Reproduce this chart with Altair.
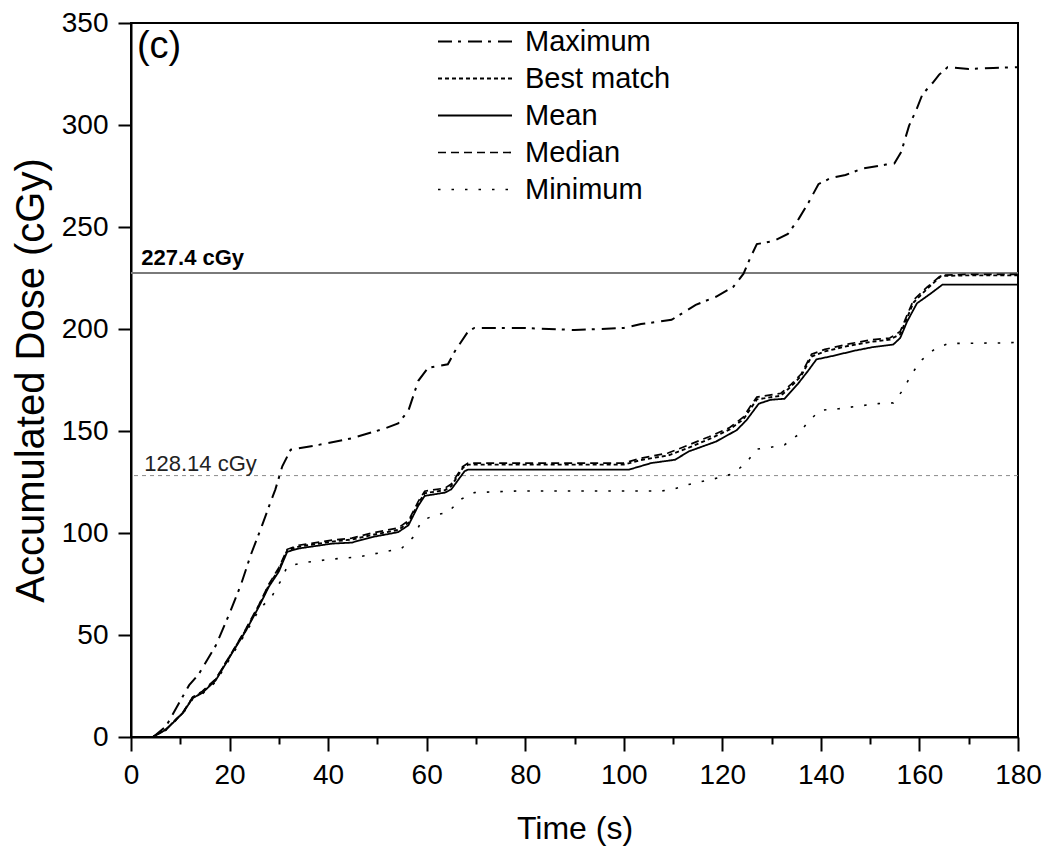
import altair as alt
import pandas as pd

# ---------------- data ----------------
series_names = ["Maximum", "Best match", "Mean", "Median", "Minimum"]

max_t = [4.5, 7.1, 9.9, 11.8, 13.8, 17.2, 19.9, 22.3, 24.3, 26.6, 28.3, 29.3, 30.7, 32.4,
         38.1, 44.8, 51.6, 54.2, 56.3, 58.3, 60.3, 64.3, 65.7, 68.4, 69.7, 80, 90, 100,
         103.5, 109.7, 114.6, 118.7, 122.2, 124.3, 125.6, 127.0, 130.5, 133.3, 135.5, 137.5,
         139.5, 142, 145, 148.5, 153.2, 154.9, 156.3, 157.9, 159.3, 160.6, 162.7, 164.0,
         165.7, 170, 175, 180]
max_d = [0, 5.2, 17.3, 25.4, 31, 44.8, 60, 74.6, 89.2, 103.7, 115, 121.4, 132.7, 140.8,
         143.2, 146.4, 151.3, 153.7, 160, 174.6, 181, 182.7, 189, 198.8, 200.5, 200.5, 199.5, 200.5,
         202.4, 204.5, 211.8, 215.8, 220.6, 227.1, 234.5, 241.6, 243.2, 246.6, 254, 262,
         271, 274, 275.5, 278.7, 280.6, 281.1, 286.8, 299.7, 307, 315, 320.7, 324.7,
         328.3, 327.5, 328, 328.3]

mean_t = [4.4, 7.1, 10.5, 12.5, 14.5, 17.2, 20.6, 23.3, 26, 28, 30, 31.7, 34, 40.8, 44.8,
          48.9, 54.2, 56.3, 58.3, 59.6, 63.7, 65, 67.7, 68.4, 80, 90, 101.1, 105.6, 110.4,
          113.2, 118.7, 122.9, 124.9, 127.4, 129.8, 132.6, 135.3, 137.4, 139.1, 142.2, 147.1,
          150.5, 154.7, 156.1, 157.5, 159.5, 162.3, 164.7, 170, 180]
mean_d = [0, 3.6, 11.7, 19, 21.7, 27.8, 41.5, 52, 64.1, 73.8, 81.1, 90.8, 92.4, 94.8, 95.3,
          98, 100.4, 103.8, 113.4, 118.2, 119.8, 121.4, 130.3, 131.1, 131.1, 131.1, 131.1, 134.3, 135.9,
          140, 144.8, 150.4, 155.3, 163.4, 165.3, 165.8, 173, 179.5, 185.1, 186.7, 189.5,
          191.1, 192.4, 195.6, 203.7, 212.6, 217.4, 221.8, 221.8, 221.8]

median_t = [4.4, 7.1, 10.5, 12.5, 14.5, 17.2, 20.6, 23.3, 26, 28, 30, 31.7, 34, 40.8, 44.8,
            48.9, 54.2, 56.3, 58.3, 59.6, 63.7, 65, 67.3, 68.4, 80, 90, 100, 103.5, 109,
            113.2, 117.3, 121.5, 124.3, 125.6, 127, 131.9, 134, 136, 138.1, 140.8, 145.7,
            150.5, 154, 156.1, 157.5, 158.8, 161.6, 164.4, 170, 180]
median_d = [0, 3.8, 12, 19.5, 22.5, 28.5, 42, 53, 65, 75, 83, 92, 94, 96.5, 97.5,
            100, 102.5, 106, 115.5, 120.5, 122, 124, 132.5, 134.3, 134.3, 134.3, 134.3, 136.7, 139.2,
            143.2, 147.2, 151.7, 156.9, 161.8, 166.6, 168.5, 173, 177.9, 187.6, 190, 192.7,
            194.8, 195.6, 198.8, 206.9, 214.2, 220.6, 226.3, 226.8, 226.8]

best_t = median_t
best_d = [0, 3.7, 11.8, 19.2, 22, 28.2, 41.8, 52.5, 64.5, 74.5, 82, 91.5, 93.3, 95.8, 96.8,
          99, 101.5, 105, 114.5, 119.5, 121, 123, 131.8, 133.5, 133.5, 133.5, 133.5, 135.8, 138,
          141.8, 146, 150.8, 155.8, 160.5, 165.5, 167.3, 172, 177, 186.5, 189, 191.8,
          193.8, 194.8, 197.5, 205.5, 213, 219.8, 226, 226.3, 226.3]

min_t = [4.4, 7.1, 10.5, 12.5, 14.5, 17.2, 20.6, 23.3, 26, 28.6, 30.3, 31.7, 34.7, 40.8,
         46.2, 52.2, 54.9, 57.3, 59, 61.7, 64.3, 67, 69.7, 78.5, 90, 107.7, 110.4, 113.2,
         116.3, 119.1, 122.2, 124.9, 127, 129.8, 132.6, 135.3, 137.4, 139.8, 143.6, 148.5,
         151.6, 154.7, 156.8, 158.2, 160.2, 163, 165.8, 177.5, 180]
min_d = [0, 3.4, 11.3, 18.5, 21.2, 27, 40.5, 51, 62.5, 69, 76.2, 83.5, 85.4, 87.2,
         88.3, 91.1, 92.4, 98, 106, 108.8, 110.1, 116.6, 119.8, 120.6, 120.6, 120.6, 121.7, 123.8,
         125.5, 127, 129.1, 134.6, 141.1, 142, 143.2, 148, 154.5, 160.1, 160.9, 162.5,
         163.4, 163.8, 170.6, 177, 184.3, 190, 192.9, 193.2, 193.5]

ref_values = [227.4, 128.14]
ref_labels = ["227.4 cGy", "128.14 cGy"]
panel_label = "(c)"

x_ticks = list(range(0, 181, 5))
y_ticks = list(range(0, 351, 50))

# ---------------- build table ----------------
rows = []
for name, ts, ds in [("Maximum", max_t, max_d), ("Best match", best_t, best_d),
                     ("Mean", mean_t, mean_d), ("Median", median_t, median_d),
                     ("Minimum", min_t, min_d)]:
    for t, d in zip(ts, ds):
        rows.append({"series": name, "time": t, "dose": d})
df = pd.DataFrame(rows)

FONT = "Liberation Sans"
W, H = 887, 714

xscale = alt.Scale(domain=[0, 180], nice=False, zero=False)
yscale = alt.Scale(domain=[0, 350], nice=False)

dash_range = [[14, 6, 3, 7], [4, 3], [1, 0], [8, 5], [2.5, 11]]
width_range = [2, 1.6, 2.6, 2, 2.2]

lines = alt.Chart(df).mark_line(color="black", strokeCap="butt", clip=True).encode(
    x=alt.X("time:Q", scale=xscale,
            axis=alt.Axis(values=x_ticks, title="Time (s)",
                          labelExpr="datum.value % 20 === 0 ? datum.label : ''",
                          tickSize={"condition": {"test": "datum.value % 20 === 0", "value": 14}, "value": 7},
                          labelFontSize=28, labelPadding=10, titleFontSize=32, titlePadding=24,
                          labelFlush=False)),
    y=alt.Y("dose:Q", scale=yscale,
            axis=alt.Axis(values=y_ticks, title="Accumulated Dose (cGy)", tickSize=13,
                          labelFontSize=28, labelPadding=10, titleFontSize=40, titlePadding=10,
                          labelFlush=False)),
    strokeDash=alt.StrokeDash("series:N",
                              scale=alt.Scale(domain=series_names, range=dash_range),
                              sort=series_names,
                              legend=alt.Legend(title=None, orient="none", legendX=306, legendY=0,
                                                symbolType="stroke", symbolSize=5476,
                                                symbolStrokeWidth=1.5, symbolStrokeColor="black",
                                                labelFontSize=29, labelOffset=12, rowPadding=0,
                                                clipHeight=37, padding=0, direction="vertical")),
    strokeWidth=alt.StrokeWidth("series:N",
                                scale=alt.Scale(domain=series_names, range=width_range),
                                legend=None),
)

ref_df = pd.DataFrame({"y": ref_values, "label": ref_labels})

ref_solid = alt.Chart(ref_df.iloc[[0]]).mark_rule(color="#7a7a7a", strokeWidth=2).encode(
    y=alt.Y("y:Q", scale=yscale))
ref_dash = alt.Chart(ref_df.iloc[[1]]).mark_rule(color="#8a8a8a", strokeWidth=1,
                                                 strokeDash=[4, 4]).encode(
    y=alt.Y("y:Q", scale=yscale))

lab1 = alt.Chart(ref_df.iloc[[0]]).mark_text(align="left", baseline="alphabetic", dy=-8,
                                             fontSize=22, fontWeight="bold", color="black").encode(
    x=alt.datum(2.1, scale=xscale), y=alt.Y("y:Q", scale=yscale), text="label:N")
lab2 = alt.Chart(ref_df.iloc[[1]]).mark_text(align="left", baseline="alphabetic", dy=-5,
                                             fontSize=22, color="#222222").encode(
    x=alt.datum(2.7, scale=xscale), y=alt.Y("y:Q", scale=yscale), text="label:N")

panel = alt.Chart(pd.DataFrame({"t": [panel_label]})).mark_text(
    align="left", baseline="alphabetic", fontSize=38, color="black").encode(
    x=alt.datum(1.2, scale=xscale), y=alt.datum(333, scale=yscale), text="t:N")

chart = alt.layer(ref_solid, ref_dash, lab1, lab2, lines, panel).properties(
    width=W, height=H,
    autosize=alt.AutoSizeParams(type="none"),
    padding={"left": 123, "top": 15, "right": 24, "bottom": 110},
).configure(font=FONT).configure_view(
    stroke="black", strokeWidth=2
).configure_axis(
    grid=False, domainColor="black", domainWidth=2, tickColor="black", tickWidth=2,
    labelColor="black", titleColor="black", labelFont=FONT, titleFont=FONT,
    titleFontWeight="normal"
).configure_legend(labelFont=FONT, labelColor="black")

chart.save("out.html", embed_options={"renderer": "svg", "actions": False})
